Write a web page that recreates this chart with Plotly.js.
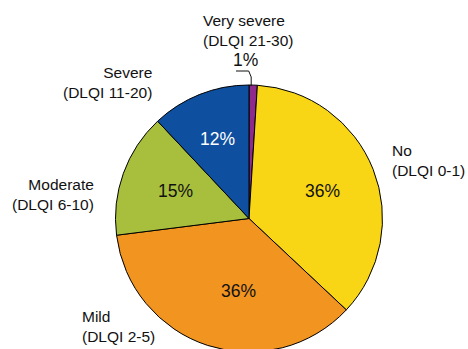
<!DOCTYPE html>
<html>
<head>
<meta charset="utf-8">
<script src="https://cdn.plot.ly/plotly-3.0.1.min.js"></script>
<style>
  html, body { margin: 0; padding: 0; overflow: hidden; background: #fff; }
  #chart { width: 468px; height: 360px; }
</style>
</head>
<body>
<div id="chart"></div>
<script>
// DLQI severity bands, clockwise from 12 o'clock
const categories = ['Very severe', 'No', 'Mild', 'Moderate', 'Severe'];
const dlqiRanges = ['DLQI 21-30', 'DLQI 0-1', 'DLQI 2-5', 'DLQI 6-10', 'DLQI 11-20'];
const shares = [1, 36, 36, 15, 12];
const sliceColors = ['#8E2A8C', '#F8D616', '#F29420', '#A8BF3D', '#0E4F9F'];
const pctTextColors = ['#111', '#111', '#111', '#111', '#fff'];

const W = 468, H = 360;
const CX = 249, CY = 218.5, R = 133.5;   // pie centre and radius in px
const FONT = 'Liberation Sans, Arial, Helvetica, sans-serif';

// where each percentage sits inside its slice: fraction of radius, angular nudge
const pctRadius = [0, 0.585, 0.55, 0.59, 0.64];
const pctNudge = [0, 1, -9.4, 0.6, 0.3];

const px = x => x / W;
const py = y => (H - y) / H;

const total = shares.reduce((a, b) => a + b, 0);

// mid-angle of each slice (degrees clockwise from top)
const midAngles = [];
let acc = 0;
shares.forEach(v => {
  const span = v / total * 360;
  midAngles.push(acc + span / 2);
  acc += span;
});
const polar = (deg, r) => {
  const a = deg * Math.PI / 180;
  return [CX + Math.sin(a) * r, CY - Math.cos(a) * r];
};

const annotations = [];

// percentage labels inside the slices
shares.forEach((v, i) => {
  if (i === 0) return;
  const [x, y] = polar(midAngles[i] + pctNudge[i], R * pctRadius[i]);
  annotations.push({
    x: px(x), y: py(y), xref: 'paper', yref: 'paper',
    text: v + '%', showarrow: false,
    xanchor: 'center', yanchor: 'middle',
    font: { family: FONT, size: 17.5, color: pctTextColors[i] }
  });
});

// small slice: label above with a leader line
const [tipX, tipY] = polar(midAngles[0], R);
annotations.push({
  x: px(245), y: py(60.5), xref: 'paper', yref: 'paper',
  text: shares[0] + '%', showarrow: false,
  xanchor: 'center', yanchor: 'middle',
  font: { family: FONT, size: 17.5, color: '#111' }
});

// category labels around the pie
const labelPlacement = [
  { x: 201, y: 30, anchor: 'left' },     // Very severe
  { x: 390, y: 160, anchor: 'left' },    // No
  { x: 80, y: 326, anchor: 'left' },     // Mild
  { x: 96, y: 194.5, anchor: 'right' },  // Moderate
  { x: 154, y: 82.7, anchor: 'right' }   // Severe
];
categories.forEach((c, i) => {
  const p = labelPlacement[i];
  annotations.push({
    x: px(p.x), y: py(p.y), xref: 'paper', yref: 'paper',
    text: c + '<br>(' + dlqiRanges[i] + ')', showarrow: false,
    xanchor: p.anchor, yanchor: 'middle', align: p.anchor,
    font: { family: FONT, size: 15.5, color: '#111' }
  });
});

const leadX = tipX - 2;
const leader = {
  type: 'path', xref: 'paper', yref: 'paper',
  path: 'M ' + px(236) + ',' + py(71) +
        ' L ' + px(leadX - 2.5) + ',' + py(71) +
        ' L ' + px(leadX) + ',' + py(77) +
        ' L ' + px(leadX) + ',' + py(tipY + 1),
  line: { color: '#111', width: 1 }
};

const trace = {
  type: 'pie',
  labels: categories,
  values: shares,
  sort: false,
  direction: 'clockwise',
  rotation: 0,
  marker: { colors: sliceColors, line: { color: '#000', width: 1 } },
  textinfo: 'none',
  hoverinfo: 'label+percent',
  showlegend: false,
  domain: { x: [px(CX - R), px(CX + R)], y: [py(CY + R), py(CY - R)] }
};

Plotly.newPlot('chart', [trace], {
  width: W, height: H,
  margin: { l: 0, r: 0, t: 0, b: 0 },
  paper_bgcolor: '#fff',
  showlegend: false,
  annotations: annotations,
  shapes: [leader]
}, { displayModeBar: false, staticPlot: true });
</script>
</body>
</html>
